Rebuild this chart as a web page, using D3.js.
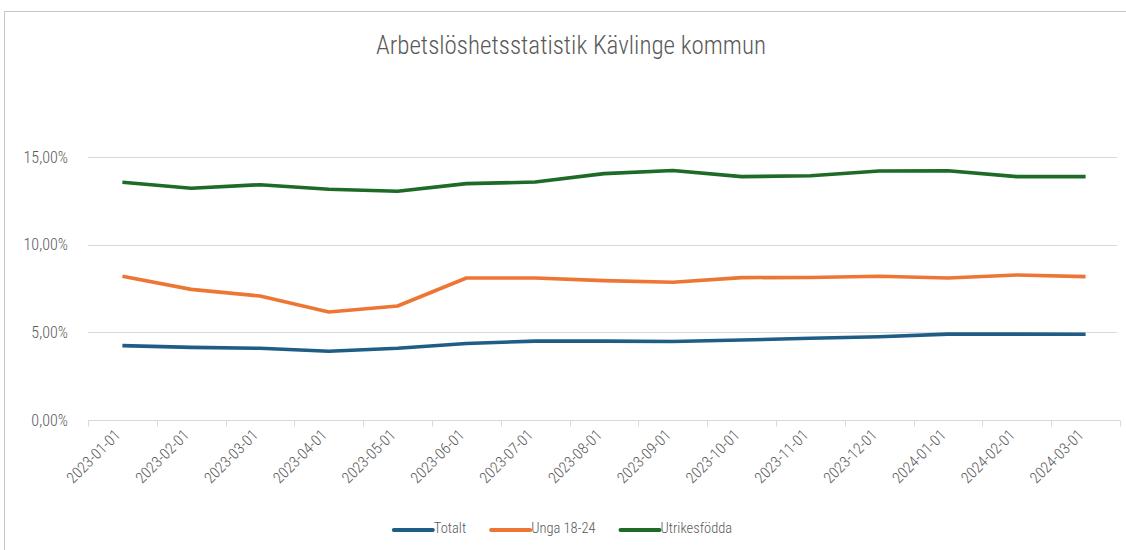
<!DOCTYPE html>
<html>
<head>
<meta charset="utf-8">
<script src="https://cdn.jsdelivr.net/npm/d3@7"></script>
<style>
  html, body { margin: 0; padding: 0; background: #fff; }
  svg { display: block; }
  text { font-family: "Liberation Sans Narrow", "Arial Narrow", "Roboto Condensed", "Liberation Sans", Arial, sans-serif; fill: #595959; }
</style>
</head>
<body>
<svg id="chart" width="1126" height="550"></svg>
<script>
const months = ['2023-01-01', '2023-02-01', '2023-03-01', '2023-04-01', '2023-05-01', '2023-06-01', '2023-07-01', '2023-08-01',
  '2023-09-01', '2023-10-01', '2023-11-01', '2023-12-01', '2024-01-01', '2024-02-01', '2024-03-01']
const totalt = [4.24, 4.14, 4.09, 3.92, 4.09, 4.36, 4.5, 4.5, 4.48, 4.56, 4.66, 4.75, 4.9, 4.9, 4.89]
const unga = [8.2, 7.45, 7.07, 6.16, 6.5, 8.1, 8.1, 7.95, 7.86, 8.12, 8.13, 8.2, 8.1, 8.27, 8.18]
const utrikes = [13.56, 13.22, 13.42, 13.16, 13.05, 13.48, 13.57, 14.05, 14.23, 13.88, 13.93, 14.2, 14.22, 13.88, 13.88]
const yTicks = [0, 5, 10, 15]

const series = [
  { name: 'Totalt', values: totalt, color: '#1f5d87' },
  { name: 'Unga 18-24', values: unga, color: '#ee7634' },
  { name: 'Utrikesfödda', values: utrikes, color: '#1d6b27' },
]

const svg = d3.select('#chart')
const width = 1126
const margin = { top: 157, right: 6, bottom: 130, left: 88 }
const x = d3.scaleBand().domain(months).range([margin.left, width - margin.right])
const y = d3.scaleLinear().domain([0, 15]).range([420, margin.top])
const fmt = (v) => d3.format('.2f')(v).replace('.', ',') + '%'

// outer frame
svg.append('rect').attr('x', 4.5).attr('y', 11.5).attr('width', 1140).attr('height', 560)
  .attr('fill', 'none').attr('stroke', '#c6c6c6')

svg.append('text').attr('x', 571).attr('y', 54).attr('text-anchor', 'middle')
  .attr('font-size', 25).attr('font-weight', 300).text('Arbetslöshetsstatistik Kävlinge kommun')

// gridlines
svg.append('g').selectAll('line').data(yTicks.filter((t) => t > 0)).join('line')
  .attr('x1', margin.left).attr('x2', 1117)
  .attr('y1', (t) => Math.round(y(t)) + 0.5).attr('y2', (t) => Math.round(y(t)) + 0.5)
  .attr('stroke', '#d9d9d9')

svg.append('g').selectAll('text').data(yTicks).join('text')
  .attr('x', 68).attr('y', (t) => y(t)).attr('dy', '0.35em').attr('text-anchor', 'end')
  .attr('font-size', 16).attr('font-weight', 300).text(fmt)

// x axis
const xAxis = svg.append('g').attr('transform', `translate(0,${Math.round(y(0)) + 0.5})`)
xAxis.append('line').attr('x1', margin.left).attr('x2', width - margin.right).attr('stroke', '#d9d9d9')
xAxis.selectAll('.tick').data(months.concat(['end'])).join('line')
  .attr('x1', (m, i) => Math.round(margin.left + i * x.step()) + 0.5)
  .attr('x2', (m, i) => Math.round(margin.left + i * x.step()) + 0.5)
  .attr('y1', 0).attr('y2', 6).attr('stroke', '#d9d9d9')

svg.append('g').selectAll('text').data(months).join('text')
  .attr('transform', (m) => `translate(${x(m) + x.bandwidth() / 2 - 1},${436}) rotate(-45)`)
  .attr('text-anchor', 'end').attr('font-size', 15.5).attr('font-weight', 300).text((m) => m)

// lines
const line = d3.line().x((v, i) => x(months[i]) + x.bandwidth() / 2).y((v) => y(v))
svg.append('g').selectAll('path').data(series).join('path')
  .attr('d', (s) => line(s.values)).attr('fill', 'none')
  .attr('stroke', (s) => s.color).attr('stroke-width', 3.6)
  .attr('stroke-linejoin', 'round')

// legend
const legend = svg.append('g')
const items = legend.selectAll('g').data(series).join('g')
items.append('line').attr('x1', 0).attr('x2', 39).attr('y1', 530).attr('y2', 530)
  .attr('stroke', (s) => s.color).attr('stroke-width', 4).attr('stroke-linecap', 'round')
items.append('text').attr('x', 40).attr('y', 529).attr('dy', '0.3em').attr('font-size', 14.5).attr('font-weight', 300).text((s) => s.name)
let offset = 0
const positions = []
items.each(function () {
  positions.push(offset)
  offset += 40 + this.querySelector('text').getComputedTextLength() + 25
})
const total = offset - 25
items.attr('transform', (s, i) => `translate(${563 - total / 2 + positions[i]},0)`)
</script>
</body>
</html>
